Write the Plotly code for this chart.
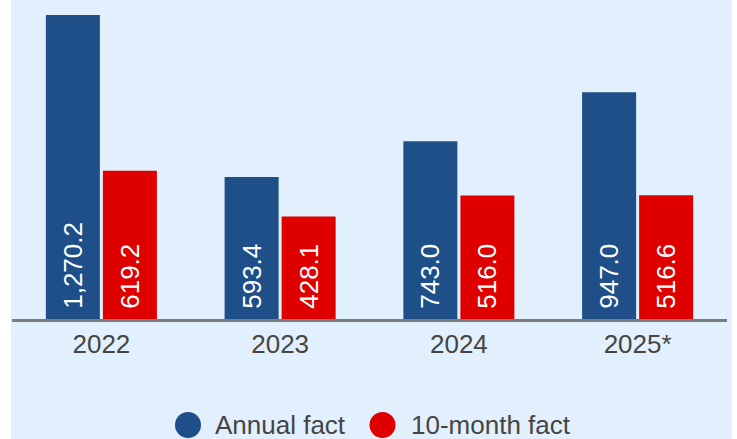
import plotly.graph_objects as go

# chart data
years = ["2022", "2023", "2024", "2025*"]
annual_fact = [1270.2, 593.4, 743.0, 947.0]
ten_month_fact = [619.2, 428.1, 516.0, 516.6]
series_names = ["Annual fact", "10-month fact"]

BLUE = "#1e4f88"
RED = "#df0000"
BG = "#e2effc"
TEXT = "#454545"

W, H = 737, 439
L, R, T, B = 12, 10, 10, 120
plot_w = W - L - R
plot_h = H - T - B


def px_x(px):
    return (px - L) / plot_w


def px_y(py):
    return (H - B - py) / plot_h


def label(v):
    return "\u00a0" + f"{v:,.1f}"


fig = go.Figure()
for name, vals, color in [
    (series_names[0], annual_fact, BLUE),
    (series_names[1], ten_month_fact, RED),
]:
    fig.add_trace(
        go.Bar(
            name=name,
            x=years,
            y=vals,
            marker=dict(color=color, line=dict(width=0)),
            text=[label(v) for v in vals],
            textposition="inside",
            insidetextanchor="start",
            textangle=-90,
            textfont=dict(color="white", size=26, family="Liberation Sans, Arial"),
            showlegend=False,
            hoverinfo="skip",
        )
    )

# background panel (slightly inset white edges like the original)
fig.add_shape(
    type="rect", xref="paper", yref="paper", layer="below",
    x0=px_x(11), x1=px_x(732), y0=px_y(H), y1=px_y(0),
    fillcolor=BG, line=dict(width=0),
)

# custom legend with large circle markers
legend_items = [(series_names[0], BLUE, 188, 213), (series_names[1], RED, 382.5, 409)]
for name, color, cx, tx in legend_items:
    fig.add_shape(
        type="circle", xref="paper", yref="paper",
        x0=px_x(cx - 13), x1=px_x(cx + 13), y0=px_y(425 + 13), y1=px_y(425 - 13),
        fillcolor=color, line=dict(width=0),
    )
    fig.add_annotation(
        text=name, xref="paper", yref="paper", x=px_x(tx), y=px_y(425),
        xanchor="left", yanchor="middle", showarrow=False,
        font=dict(size=26, color=TEXT, family="Liberation Sans, Arial"),
    )

fig.update_layout(
    width=W,
    height=H,
    barmode="group",
    bargap=0.362,
    bargroupgap=0.053,
    paper_bgcolor="white",
    plot_bgcolor=BG,
    margin=dict(l=L, r=R, t=T, b=B),
    font=dict(family="Liberation Sans, Arial", color=TEXT),
)
fig.update_xaxes(
    showline=True, linecolor="#7a7d82", linewidth=3,
    showgrid=False, ticks="", tickfont=dict(size=26, color=TEXT),
    fixedrange=True,
)
fig.update_yaxes(visible=False, range=[0, 1291], showgrid=False, fixedrange=True)

fig.write_html(
    "out.html",
    config={"displayModeBar": False},
    post_script="document.body.style.margin='0';document.body.style.overflow='hidden';",
)
